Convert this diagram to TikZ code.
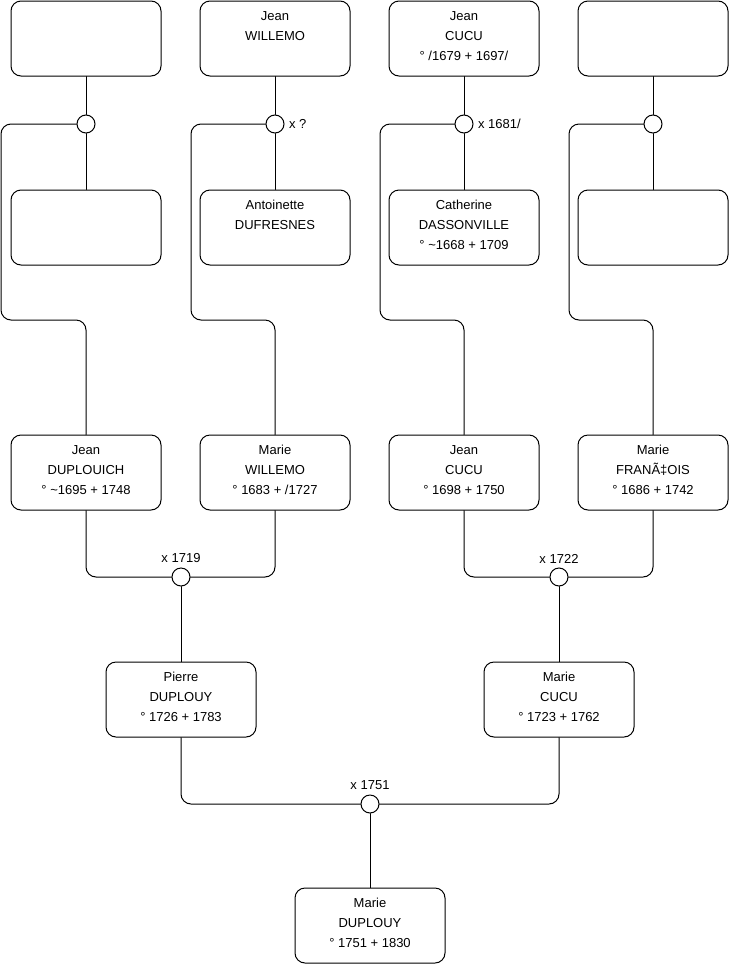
\documentclass[tikz,border=0pt]{standalone}
\usepackage{fontspec}
\setmainfont{Liberation Sans}

\newcommand{\card}[1]{\parbox[c][75pt][t]{150pt}{\centering\fontsize{13}{20}\selectfont\vspace*{5.5pt}\strut#1}}

\begin{document}
\begin{tikzpicture}[x=1pt,y=-1pt,line width=1pt,line cap=round,
  person/.style={draw,rounded corners=10pt,inner sep=0pt},
  wed/.style={draw,circle,fill=white,minimum size=18pt,inner sep=0pt},
  link/.style={rounded corners=10pt},
  every label/.style={font=\fontsize{13}{15}\selectfont,inner sep=1pt}]
\useasboundingbox (0,0) rectangle (740,975);
% top row
\node[person] (h1) at (86,38.5)  {\card{}};
\node[person] (h2) at (275,38.5) {\card{Jean\\WILLEMO}};
\node[person] (h3) at (464,38.5) {\card{Jean\\CUCU\\° /1679 + 1697/}};
\node[person] (h4) at (653,38.5) {\card{}};
\node[wed] (m1) at (86,124) {};
\node[wed,label={[label distance=3pt]right:x ?}] (m2) at (275,124) {};
\node[wed,label={[label distance=3pt]right:x 1681/}] (m3) at (464,124) {};
\node[wed] (m4) at (653,124) {};
\node[person] (w1) at (86,227.5)  {\card{}};
\node[person] (w2) at (275,227.5) {\card{Antoinette\\DUFRESNES}};
\node[person] (w3) at (464,227.5) {\card{Catherine\\DASSONVILLE\\° \textasciitilde1668 + 1709}};
\node[person] (w4) at (653,227.5) {\card{}};
% grandparents
\node[person] (g1) at (86,472.5)  {\card{Jean\\DUPLOUICH\\° \textasciitilde1695 + 1748}};
\node[person] (g2) at (275,472.5) {\card{Marie\\WILLEMO\\° 1683 + /1727}};
\node[person] (g3) at (464,472.5) {\card{Jean\\CUCU\\° 1698 + 1750}};
\node[person] (g4) at (653,472.5) {\card{Marie\\FRANÃ‡OIS\\° 1686 + 1742}};
\node[wed,label={[label distance=3pt]above:x 1719}] (n1) at (181,577) {};
\node[wed,label={[label distance=3pt]above:x 1722}] (n2) at (559,577) {};
% parents
\node[person] (p1) at (181,699.5) {\card{Pierre\\DUPLOUY\\° 1726 + 1783}};
\node[person] (p2) at (559,699.5) {\card{Marie\\CUCU\\° 1723 + 1762}};
\node[wed,label={[label distance=3pt]above:x 1751}] (o) at (370,804) {};
\node[person] (c) at (370,925.5) {\card{Marie\\DUPLOUY\\° 1751 + 1830}};
% couples of the top row
\draw (h1.south) -- (m1.north);
\draw (m1.south) -- (w1.north);
\draw (h2.south) -- (m2.north);
\draw (m2.south) -- (w2.north);
\draw (h3.south) -- (m3.north);
\draw (m3.south) -- (w3.north);
\draw (h4.south) -- (m4.north);
\draw (m4.south) -- (w4.north);
\draw[link] (m1.west) -| (1,320) -| (g1.north);
\draw[link] (m2.west) -| (191,320) -| (g2.north);
\draw[link] (m3.west) -| (380,320) -| (g3.north);
\draw[link] (m4.west) -| (569,320) -| (g4.north);
% lower generations
\draw[link] (g1.south) |- (n1.west);
\draw[link] (g2.south) |- (n1.east);
\draw[link] (g3.south) |- (n2.west);
\draw[link] (g4.south) |- (n2.east);
\draw (n1.south) -- (p1.north);
\draw (n2.south) -- (p2.north);
\draw[link] (p1.south) |- (o.west);
\draw[link] (p2.south) |- (o.east);
\draw (o.south) -- (c.north);
\end{tikzpicture}
\end{document}
